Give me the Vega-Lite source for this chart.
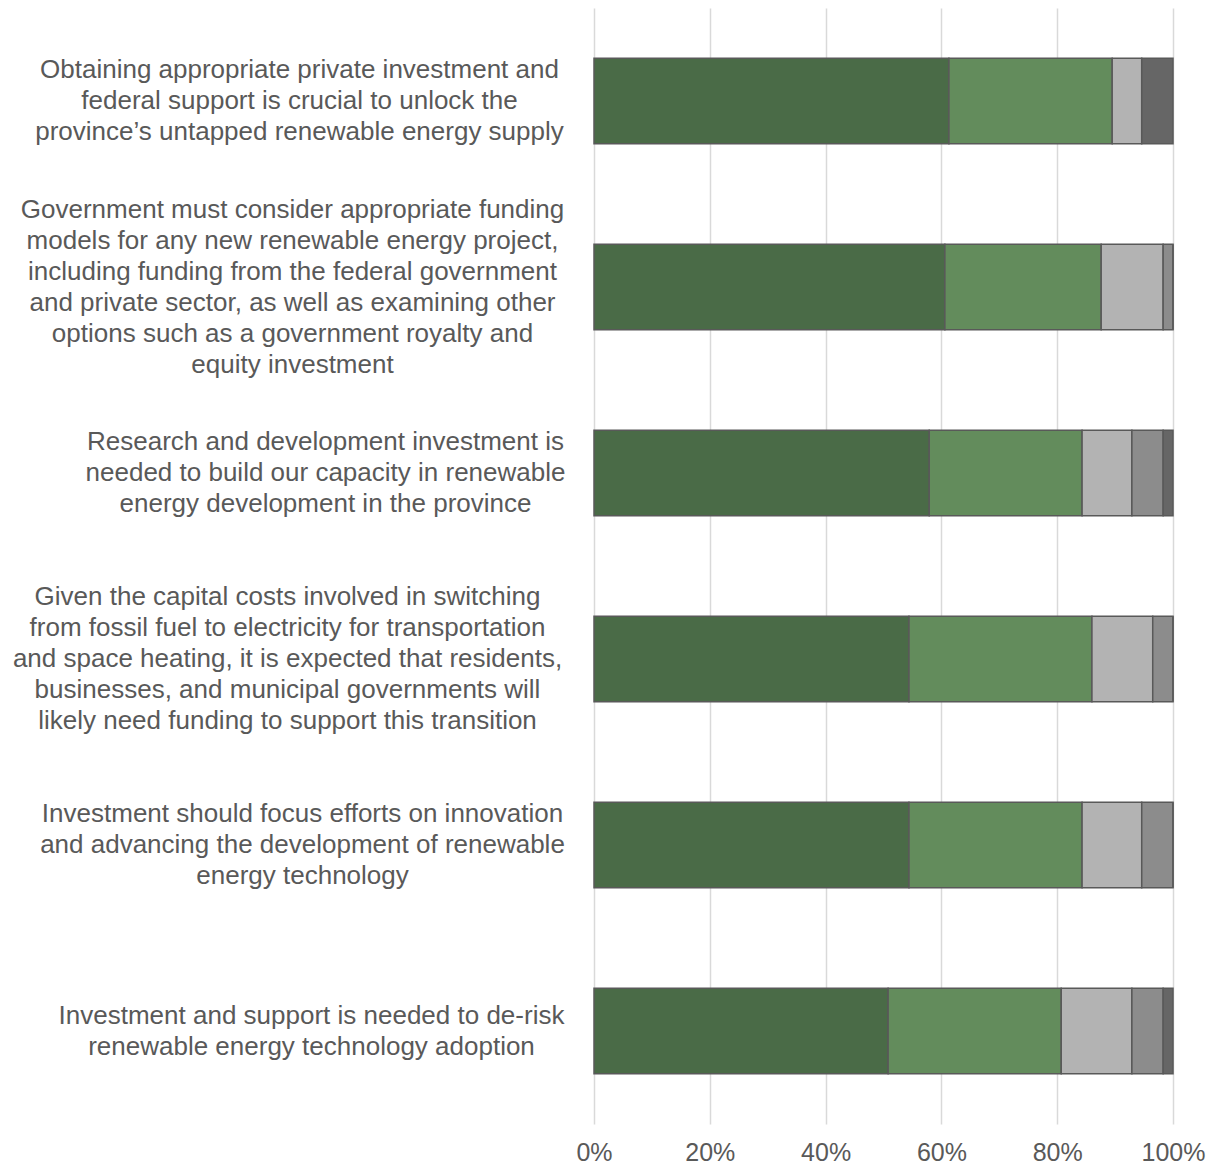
{
  "$schema": "https://vega.github.io/schema/vega-lite/v6.json",
  "autosize": {"type": "none"},
  "width": 579,
  "height": 1116,
  "padding": {"left": 594, "top": 8, "right": 41, "bottom": 44},
  "background": "white",
  "data": {
    "values": [
      {"q": "Obtaining appropriate private investment and|federal support is crucial to unlock the|province’s untapped renewable energy supply", "r": "Strongly agree", "o": 1, "v": 61.3},
      {"q": "Obtaining appropriate private investment and|federal support is crucial to unlock the|province’s untapped renewable energy supply", "r": "Agree", "o": 2, "v": 28.2},
      {"q": "Obtaining appropriate private investment and|federal support is crucial to unlock the|province’s untapped renewable energy supply", "r": "Neutral", "o": 3, "v": 5.1},
      {"q": "Obtaining appropriate private investment and|federal support is crucial to unlock the|province’s untapped renewable energy supply", "r": "Disagree", "o": 4, "v": 0},
      {"q": "Obtaining appropriate private investment and|federal support is crucial to unlock the|province’s untapped renewable energy supply", "r": "Strongly disagree", "o": 5, "v": 5.4},

      {"q": "Government must consider appropriate funding|models for any new renewable energy project,|including funding from the federal government|and private sector, as well as examining other|options such as a government royalty and|equity investment", "r": "Strongly agree", "o": 1, "v": 60.6},
      {"q": "Government must consider appropriate funding|models for any new renewable energy project,|including funding from the federal government|and private sector, as well as examining other|options such as a government royalty and|equity investment", "r": "Agree", "o": 2, "v": 27.0},
      {"q": "Government must consider appropriate funding|models for any new renewable energy project,|including funding from the federal government|and private sector, as well as examining other|options such as a government royalty and|equity investment", "r": "Neutral", "o": 3, "v": 10.7},
      {"q": "Government must consider appropriate funding|models for any new renewable energy project,|including funding from the federal government|and private sector, as well as examining other|options such as a government royalty and|equity investment", "r": "Disagree", "o": 4, "v": 1.7},
      {"q": "Government must consider appropriate funding|models for any new renewable energy project,|including funding from the federal government|and private sector, as well as examining other|options such as a government royalty and|equity investment", "r": "Strongly disagree", "o": 5, "v": 0},

      {"q": "Research and development investment is|needed to build our capacity in renewable|energy development in the province", "r": "Strongly agree", "o": 1, "v": 57.9},
      {"q": "Research and development investment is|needed to build our capacity in renewable|energy development in the province", "r": "Agree", "o": 2, "v": 26.4},
      {"q": "Research and development investment is|needed to build our capacity in renewable|energy development in the province", "r": "Neutral", "o": 3, "v": 8.6},
      {"q": "Research and development investment is|needed to build our capacity in renewable|energy development in the province", "r": "Disagree", "o": 4, "v": 5.4},
      {"q": "Research and development investment is|needed to build our capacity in renewable|energy development in the province", "r": "Strongly disagree", "o": 5, "v": 1.7},

      {"q": "Given the capital costs involved in switching|from fossil fuel to electricity for transportation|and space heating, it is expected that residents,|businesses, and municipal governments will|likely need funding to support this transition", "r": "Strongly agree", "o": 1, "v": 54.4},
      {"q": "Given the capital costs involved in switching|from fossil fuel to electricity for transportation|and space heating, it is expected that residents,|businesses, and municipal governments will|likely need funding to support this transition", "r": "Agree", "o": 2, "v": 31.6},
      {"q": "Given the capital costs involved in switching|from fossil fuel to electricity for transportation|and space heating, it is expected that residents,|businesses, and municipal governments will|likely need funding to support this transition", "r": "Neutral", "o": 3, "v": 10.5},
      {"q": "Given the capital costs involved in switching|from fossil fuel to electricity for transportation|and space heating, it is expected that residents,|businesses, and municipal governments will|likely need funding to support this transition", "r": "Disagree", "o": 4, "v": 3.5},
      {"q": "Given the capital costs involved in switching|from fossil fuel to electricity for transportation|and space heating, it is expected that residents,|businesses, and municipal governments will|likely need funding to support this transition", "r": "Strongly disagree", "o": 5, "v": 0},

      {"q": "Investment should focus efforts on innovation|and advancing the development of renewable|energy technology", "r": "Strongly agree", "o": 1, "v": 54.4},
      {"q": "Investment should focus efforts on innovation|and advancing the development of renewable|energy technology", "r": "Agree", "o": 2, "v": 29.9},
      {"q": "Investment should focus efforts on innovation|and advancing the development of renewable|energy technology", "r": "Neutral", "o": 3, "v": 10.3},
      {"q": "Investment should focus efforts on innovation|and advancing the development of renewable|energy technology", "r": "Disagree", "o": 4, "v": 5.4},
      {"q": "Investment should focus efforts on innovation|and advancing the development of renewable|energy technology", "r": "Strongly disagree", "o": 5, "v": 0},

      {"q": "Investment and support is needed to de-risk|renewable energy technology adoption", "r": "Strongly agree", "o": 1, "v": 50.8},
      {"q": "Investment and support is needed to de-risk|renewable energy technology adoption", "r": "Agree", "o": 2, "v": 29.9},
      {"q": "Investment and support is needed to de-risk|renewable energy technology adoption", "r": "Neutral", "o": 3, "v": 12.2},
      {"q": "Investment and support is needed to de-risk|renewable energy technology adoption", "r": "Disagree", "o": 4, "v": 5.4},
      {"q": "Investment and support is needed to de-risk|renewable energy technology adoption", "r": "Strongly disagree", "o": 5, "v": 1.7}
    ]
  },
  "mark": {"type": "bar", "stroke": "#595959", "strokeWidth": 1.5},
  "encoding": {
    "y": {
      "field": "q",
      "type": "nominal",
      "sort": null,
      "scale": {"paddingInner": 0.54, "paddingOuter": 0.27},
      "axis": {
        "title": null,
        "domain": false,
        "ticks": false,
        "grid": false,
        "labelExpr": "split(datum.label, '|')",
        "labelFont": "Liberation Sans",
        "labelFontSize": 26,
        "labelColor": "#595959",
        "labelLineHeight": 31,
        "labelAlign": "center",
        "labelBaseline": "middle",
        "labelLimit": 0,
        "labelOffset": {
          "condition": [
            {"test": "indexof(datum.value, 'Obtaining') === 0", "value": -31},
            {"test": "indexof(datum.value, 'Government') === 0", "value": -77.5},
            {"test": "indexof(datum.value, 'Research') === 0", "value": -31},
            {"test": "indexof(datum.value, 'Given') === 0", "value": -62},
            {"test": "indexof(datum.value, 'Investment should') === 0", "value": -31}
          ],
          "value": -15.5
        },
        "labelPadding": {
          "condition": [
            {"test": "indexof(datum.value, 'Obtaining') === 0", "value": 295},
            {"test": "indexof(datum.value, 'Government') === 0", "value": 302},
            {"test": "indexof(datum.value, 'Research') === 0", "value": 269},
            {"test": "indexof(datum.value, 'Given') === 0", "value": 307},
            {"test": "indexof(datum.value, 'Investment should') === 0", "value": 292}
          ],
          "value": 283
        }
      }
    },
    "x": {
      "field": "v",
      "type": "quantitative",
      "stack": "zero",
      "scale": {"domain": [0, 100], "nice": false},
      "axis": {
        "title": null,
        "values": [0, 20, 40, 60, 80, 100],
        "labelExpr": "datum.value + '%'",
        "domain": false,
        "ticks": false,
        "grid": true,
        "gridColor": "#d9d9d9",
        "gridWidth": 1.5,
        "labelFont": "Liberation Sans",
        "labelFontSize": 25,
        "labelColor": "#595959",
        "labelPadding": 16,
        "labelFlush": false
      }
    },
    "color": {
      "field": "r",
      "type": "nominal",
      "legend": null,
      "scale": {
        "domain": ["Strongly agree", "Agree", "Neutral", "Disagree", "Strongly disagree"],
        "range": ["#4a6b47", "#638c5c", "#b3b3b3", "#8c8c8c", "#666666"]
      }
    },
    "order": {"field": "o", "type": "quantitative"}
  },
  "config": {"view": {"stroke": null}}
}
